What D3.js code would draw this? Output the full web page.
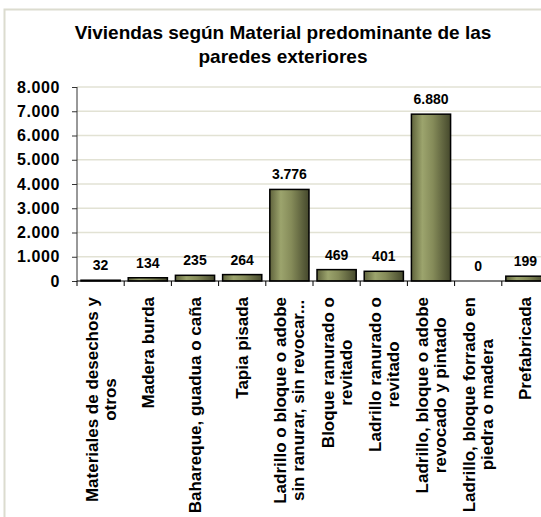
<!DOCTYPE html>
<html>
<head>
<meta charset="utf-8">
<script src="https://cdn.jsdelivr.net/npm/d3@7"></script>
<style>
  body { margin: 0; background: #fff; }
  text { font-family: "Liberation Sans", Arial, sans-serif; font-weight: bold; fill: #000; }
</style>
</head>
<body>
<div id="chart"></div>
<script>
/////////////////////////////////////////////////////////
// Viviendas por material de paredes exteriores
/////////////////////////////////////////////////////////

// categories, one entry per bar, split into label lines
var categories = [
  ["Materiales de desechos y", "otros"],
  ["Madera burda"],
  ["Bahareque, guadua o caña"],
  ["Tapia pisada"],
  ["Ladrillo o bloque o adobe", "sin ranurar, sin revocar..."],
  ["Bloque ranurado o", "revitado"],
  ["Ladrillo ranurado o", "revitado"],
  ["Ladrillo, bloque o adobe", "revocado y pintado"],
  ["Ladrillo, bloque forrado en", "piedra o madera"],
  ["Prefabricada"]
]
var values = [32, 134, 235, 264, 3776, 469, 401, 6880, 0, 199]
var yTicks = [0, 1000, 2000, 3000, 4000, 5000, 6000, 7000, 8000]
var titleLines = ["Viviendas según Material predominante de las", "paredes exteriores"]

var W = 541, H = 517
var margin = {top: 87, left: 77, bottom: 236, right: -8}
var width = W - margin.left - margin.right,
    height = H - margin.top - margin.bottom

var es = d3.formatLocale({decimal: ",", thousands: ".", grouping: [3], currency: ["", ""]})
var fmt = es.format(",d")

var svg = d3.select("#chart").append("svg")
    .attr("width", W)
    .attr("height", H)

// outer chart frame (runs past the right / bottom edge)
svg.append("rect")
    .attr("x", 4.5).attr("y", 9.5)
    .attr("width", 600).attr("height", 600)
    .attr("fill", "#fff")
    .attr("stroke", "#dcdccf")
    .attr("stroke-width", 2)

// title
svg.append("text")
    .attr("x", 283)
    .attr("y", 39)
    .attr("text-anchor", "middle")
    .style("font-size", "19px")
    .selectAll("tspan")
    .data(titleLines)
  .enter().append("tspan")
    .attr("x", 283)
    .attr("dy", function(d, i) { return i ? 24 : 0 })
    .text(function(d) { return d })

var g = svg.append("g")
    .attr("transform", "translate(" + margin.left + "," + margin.top + ")")

var x = d3.scaleBand()
    .domain(d3.range(categories.length))
    .range([0, width])
    .paddingInner(0.17)
    .paddingOuter(0.085)

var y = d3.scaleLinear()
    .domain([0, 8000])
    .range([height, 0])

// gradient for the bars
var grad = svg.append("defs").append("linearGradient")
    .attr("id", "barGrad")
    .attr("x1", "0%").attr("x2", "100%")
grad.append("stop").attr("offset", "0%").attr("stop-color", "#5f633c")
grad.append("stop").attr("offset", "28%").attr("stop-color", "#9ca46d")
grad.append("stop").attr("offset", "55%").attr("stop-color", "#858b59")
grad.append("stop").attr("offset", "100%").attr("stop-color", "#45482c")

// gridlines
g.selectAll(".grid")
    .data(yTicks.slice(1))
  .enter().append("line")
    .attr("x1", 0).attr("x2", width)
    .attr("y1", function(d) { return y(d) })
    .attr("y2", function(d) { return y(d) })
    .attr("stroke", "#e2e2d4")
    .attr("stroke-width", 1.5)

// bars
g.selectAll(".bar")
    .data(values)
  .enter().append("rect")
    .attr("x", function(d, i) { return x(i) })
    .attr("width", x.bandwidth())
    .attr("y", function(d) { return y(d) })
    .attr("height", function(d) { return height - y(d) })
    .attr("fill", "url(#barGrad)")
    .attr("stroke", "#000")
    .attr("stroke-width", 1.5)

// value labels
g.selectAll(".val")
    .data(values)
  .enter().append("text")
    .attr("x", function(d, i) { return x(i) + x.bandwidth() / 2 })
    .attr("y", function(d) { return y(d) - 10 })
    .attr("text-anchor", "middle")
    .style("font-size", "14px")
    .text(function(d) { return fmt(d) })

// y axis
var yAxis = g.append("g")
    .call(d3.axisLeft(y).tickValues(yTicks).tickFormat(fmt).tickSize(5).tickPadding(12))
yAxis.selectAll("path, line").attr("stroke", "#333")
yAxis.select(".domain").attr("d", "M0," + y(8000) + "V" + y(0))
yAxis.selectAll("text")
    .style("font-size", "16px")
    .style("letter-spacing", "0.6px")
    .attr("fill", "#000")

// x axis: ticks sit on band boundaries
var step = x.step()
var bounds = d3.range(categories.length + 1).map(function(i) { return i * step })
var xAxis = g.append("g")
    .attr("transform", "translate(0," + height + ")")
xAxis.append("line")
    .attr("x1", 0).attr("x2", width)
    .attr("stroke", "#000").attr("stroke-width", 1.2)
xAxis.selectAll(".tick")
    .data(bounds)
  .enter().append("line")
    .attr("x1", function(d) { return d }).attr("x2", function(d) { return d })
    .attr("y1", 0).attr("y2", 5)
    .attr("stroke", "#000")

// category labels, rotated, lines centred on each other
var lh = 18
var labels = g.selectAll(".cat")
    .data(categories)
  .enter().append("g")
    .attr("transform", function(d, i) {
      return "translate(" + (x(i) + x.bandwidth() / 2) + "," + (height + 16) + ") rotate(-90)"
    })

labels.each(function(lines) {
  var lab = d3.select(this)
  var texts = lines.map(function(t, j) {
    return lab.append("text")
      .attr("text-anchor", "middle")
      .attr("y", (j - (lines.length - 1) / 2) * lh + 6)
      .style("font-size", "17px")
      .text(t)
  })
  var maxLen = d3.max(texts, function(t) { return t.node().getComputedTextLength() })
  texts.forEach(function(t) { t.attr("x", -maxLen / 2) })
})
</script>
</body>
</html>
